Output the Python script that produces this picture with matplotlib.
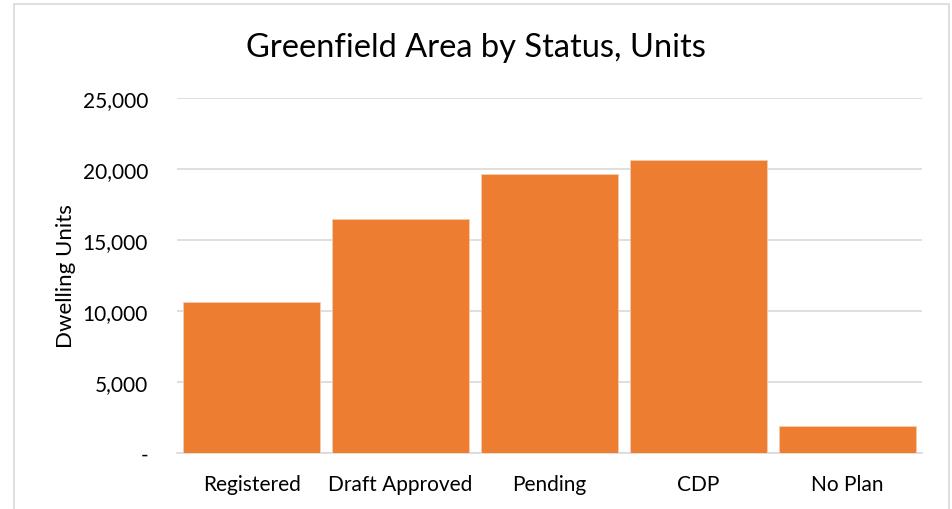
import matplotlib.pyplot as plt
from matplotlib.patches import Rectangle
from matplotlib.ticker import FuncFormatter

# data
statuses = ["Registered", "Draft Approved", "Pending", "CDP", "No Plan"]
units = [10650, 16500, 19650, 20600, 1900]
y_ticks = [0, 5000, 10000, 15000, 20000, 25000]

BAR_COLOR = "#ED7D31"
GRID_COLOR = "#D9D9D9"
FONT = ["Lato", "DejaVu Sans"]

plt.rcParams["font.family"] = FONT

fig = plt.figure(figsize=(9.52, 5.10), dpi=100)
ax = fig.add_axes([0.186, 0.1098, 0.7825, 0.6961])

ax.bar(statuses, units, width=0.92, color=BAR_COLOR, edgecolor="#F8CBAD",
       linewidth=0.6, zorder=3)

ax.set_ylim(0, 25000)
ax.set_xlim(-0.5, len(statuses) - 0.5)
ax.set_yticks(y_ticks)
ax.yaxis.set_major_formatter(FuncFormatter(lambda v, p: "-" if v == 0 else f"{int(v):,}"))
ax.grid(axis="y", color=GRID_COLOR, linewidth=1.2, zorder=0)
ax.tick_params(axis="both", length=0, labelsize=15, colors="#000000")
ax.tick_params(axis="y", pad=21)
ax.tick_params(axis="x", pad=15)

for side in ["top", "right", "left"]:
    ax.spines[side].set_visible(False)
ax.spines["bottom"].set_color(GRID_COLOR)
ax.spines["bottom"].set_linewidth(1.2)

ax.set_ylabel("Dwelling Units", fontsize=16, labelpad=5)
fig.text(0.5, 0.905, "Greenfield Area by Status, Units", ha="center", va="center",
         fontsize=23.5)

# light outer chart border
fig.patches.append(Rectangle((14 / 952, -0.05), 935 / 952, 1.04, transform=fig.transFigure,
                             fill=False, edgecolor=GRID_COLOR, linewidth=1.2))

fig.savefig("out.png", dpi=100, facecolor="white")
